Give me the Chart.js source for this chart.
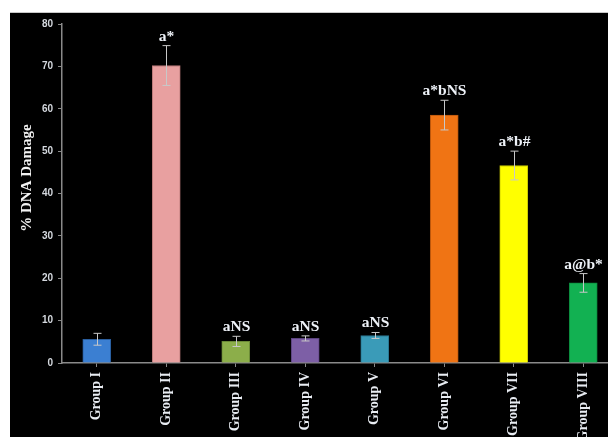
<!DOCTYPE html>
<html>
<head>
<meta charset="utf-8">
<script src="https://cdn.jsdelivr.net/npm/chart.js@4.4.1/dist/chart.umd.min.js"></script>
<style>
  html, body { margin: 0; padding: 0; background: #fff; }
  #frame {
    position: absolute; left: 10px; top: 12px;
    width: 598px; height: 425px;
    background: #000; overflow: hidden;
    border-top: 1px solid #c8c8c8;
    box-sizing: border-box;
  }
  #chart { display: block; }
</style>
</head>
<body>
<div id="frame"><canvas id="chart" width="612" height="424"></canvas></div>
<script>
// Data
const groups = ['Group I', 'Group II', 'Group III', 'Group IV', 'Group V', 'Group VI', 'Group VII', 'Group VIII'];
const damage = [5.6, 70.2, 5.1, 5.8, 6.5, 58.5, 46.6, 18.9];
const errors = [1.4, 4.7, 1.2, 0.6, 0.7, 3.5, 3.4, 2.2];
const marks = ['', 'a*', 'aNS', 'aNS', 'aNS', 'a*bNS', 'a*b#', 'a@b*'];
const barColors = ['#3b7fd2', '#e8a0a0', '#8cae4a', '#7d5fa6', '#3a9bb8', '#f07414', '#ffff00', '#12b152'];
const borderColors = ['#2a5e9e', '#b97878', '#6a8836', '#5c4480', '#2a7690', '#b8560c', '#c8c800', '#0c8a3e'];

// Error bars, significance marks and y title
const extras = {
    id: 'extras',
    afterDatasetsDraw(chart) {
        const ctx = chart.ctx;
        const x = chart.scales.x;
        const y = chart.scales.y;
        ctx.save();
        ctx.strokeStyle = '#c8c8c8';
        ctx.lineWidth = 1;
        damage.forEach((v, i) => {
            const cx = Math.round(x.getPixelForValue(i)) + 0.5;
            const top = y.getPixelForValue(v + errors[i]);
            const bot = y.getPixelForValue(v - errors[i]);
            ctx.beginPath();
            ctx.moveTo(cx, top); ctx.lineTo(cx, bot);
            ctx.moveTo(cx - 4, top); ctx.lineTo(cx + 4, top);
            ctx.moveTo(cx - 4, bot); ctx.lineTo(cx + 4, bot);
            ctx.stroke();
            if (marks[i]) {
                ctx.fillStyle = '#eef2f8';
                ctx.font = 'bold 15.5px "Liberation Serif", "DejaVu Serif", serif';
                ctx.textAlign = 'center';
                ctx.textBaseline = 'alphabetic';
                ctx.fillText(marks[i], cx, top - 5);
            }
        });
        ctx.translate(17, 165);
        ctx.rotate(-Math.PI / 2);
        ctx.fillStyle = '#f2f2f2';
        ctx.font = 'bold 15px "Liberation Serif", "DejaVu Serif", serif';
        ctx.textAlign = 'center';
        ctx.textBaseline = 'middle';
        ctx.fillText('% DNA Damage', 0, 0);
        ctx.restore();
    }
};

new Chart(document.getElementById('chart'), {
    type: 'bar',
    data: {
        labels: groups,
        datasets: [{
            data: damage,
            backgroundColor: barColors,
            borderColor: borderColors,
            borderWidth: 1,
            barThickness: 28
        }]
    },
    options: {
        responsive: false,
        animation: false,
        layout: {padding: {top: 8, right: 4, left: 0, bottom: 0}},
        plugins: {legend: {display: false}, tooltip: {enabled: false}},
        scales: {
            x: {
                offset: true,
                afterFit: s => { s.height = 74; },
                grid: {drawOnChartArea: false, offset: false, color: '#8a8a8a', tickLength: 4},
                border: {color: '#8a8a8a', width: 1.5},
                ticks: {
                    color: '#e8ecf2',
                    minRotation: 90, maxRotation: 90,
                    padding: 5,
                    font: {family: '"Liberation Serif", serif', size: 14, weight: 'bold'}
                }
            },
            y: {
                min: 0, max: 80,
                afterFit: s => { s.width = 52; },
                grid: {drawOnChartArea: false, color: '#8a8a8a', tickLength: 4},
                border: {color: '#8a8a8a', width: 1.5},
                ticks: {
                    stepSize: 10,
                    color: '#d4d8de',
                    padding: 5,
                    font: {family: '"Liberation Sans", Arial, sans-serif', size: 10, weight: 'bold'}
                }
            }
        }
    },
    plugins: [extras]
});
</script>
</body>
</html>
